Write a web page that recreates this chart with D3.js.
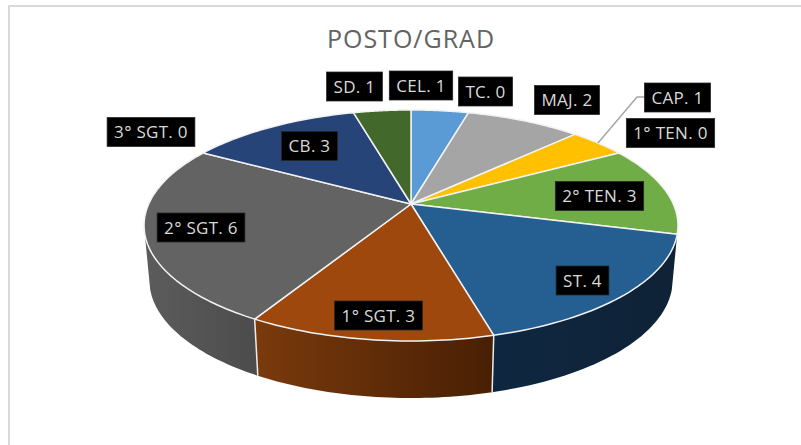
<!DOCTYPE html>
<html><head><meta charset="utf-8">
<script src="https://cdn.jsdelivr.net/npm/d3@7"></script>
<style>html,body{margin:0;padding:0;background:#fff}svg{display:block}</style>
</head><body><div id="chart"></div>
<script>
const categories = ["CEL.","TC.","MAJ.","CAP.","1° TEN.","2° TEN.","ST.","1° SGT.","2° SGT.","3° SGT.","CB.","SD."];
const values = [1,0,2,1,0,3,4,3,6,0,3,1];
const topColors = ["#5b9bd5","#ed7d31","#a5a5a5","#ffc000","#4472c4","#70ad47","#255e91","#9e480e","#636363","#997300","#264478","#43682b"];
const sideLeft  = {6:"#0e2740",7:"#7a3a0c",8:"#5c5c5c"};
const sideRight = {6:"#0f2236",7:"#481f04",8:"#4c4c4c"};
const labelBoxes = [[421,85.5],[485.5,91.5],[567,100],[677.5,97.5],[670.5,133],[599.5,196],[582.5,280.5],[378.5,315.5],[201,227.5],[151,132],[309.5,146],[354.5,86.5]];

const W=801,H=445, cx=411, cy=204, R=262.3, S=111.5, K=0.186;
const svg=d3.select("#chart").append("svg").attr("width",W).attr("height",H);
const line=d3.line();
svg.append("path").attr("d",line([[9,H],[9,6],[W,6]])).attr("fill","none").attr("stroke","#d9d9d9").attr("stroke-width",2);

const project=(a,r=1)=>{const x=r*Math.sin(a),y=-r*Math.cos(a),d=1-K*y;return [cx+R*x/d,cy+S*y/d];};
const lower=([x,y])=>[cx+(x-cx)*0.98,cy+(y-cy)*1.02+54.3];
const arcPts=(a0,a1)=>d3.range(0,41).map(i=>project(a0+(a1-a0)*i/40));
const pie=d3.pie().sort(null).value(d=>d)(values);
const defs=svg.append("defs");

const front0=Math.PI*105/180, front1=Math.PI*255/180;
pie.forEach((d,i)=>{
  if(!values[i]||d.endAngle<=front0||d.startAngle>=front1)return;
  const a0=Math.max(d.startAngle,front0),a1=Math.min(d.endAngle,front1);
  const t=arcPts(a0,a1), b=t.map(lower).reverse();
  const g=defs.append("linearGradient").attr("id","g"+i).attr("gradientUnits","userSpaceOnUse")
    .attr("x1",Math.min(t[0][0],t[40][0])).attr("x2",Math.max(t[0][0],t[40][0])).attr("y1",0).attr("y2",0);
  g.append("stop").attr("offset",0).attr("stop-color",sideLeft[i]);
  g.append("stop").attr("offset",1).attr("stop-color",sideRight[i]);
  svg.append("path").attr("d",line(t.concat(b))+"Z").attr("fill",`url(#g${i})`);
  if(d.startAngle>front0){const p=project(d.startAngle);
    svg.append("path").attr("d",line([p,lower(p)])).attr("stroke","#ececec").attr("stroke-width",1.5).attr("fill","none");}
});
pie.forEach((d,i)=>{
  if(values[i]===0)return;
  svg.append("path").attr("d",line([[cx,cy]].concat(arcPts(d.startAngle,d.endAngle)))+"Z")
    .attr("fill",topColors[i]).attr("stroke","#f2f2f2").attr("stroke-width",1.5).attr("stroke-linejoin","round");
});

svg.append("path").attr("d",line([[645,97],[637,97],[598,143]])).attr("fill","none").attr("stroke","#a6a6a6").attr("stroke-width",1.5);

svg.append("text").attr("x",411).attr("y",48).attr("text-anchor","middle")
  .attr("font-family","'Open Sans', sans-serif").attr("font-size",25).attr("letter-spacing",1).attr("fill","#636363").text("POSTO/GRAD");

categories.forEach((c,i)=>{
  const [x,y]=labelBoxes[i];
  const g=svg.append("g");
  const r=g.append("rect").attr("fill","#000").attr("stroke","#262626").attr("stroke-width",0.75);
  const t=g.append("text").attr("x",x).attr("y",y+6).attr("text-anchor","middle")
    .attr("font-family","'Open Sans', sans-serif").attr("font-size",17).attr("letter-spacing",0.3).attr("fill","#d9d9d9").text(c+" "+values[i]);
  const w=t.node().getComputedTextLength()+14;
  r.attr("x",x-w/2).attr("y",y-14.5).attr("width",w).attr("height",29);
});
</script></body></html>
